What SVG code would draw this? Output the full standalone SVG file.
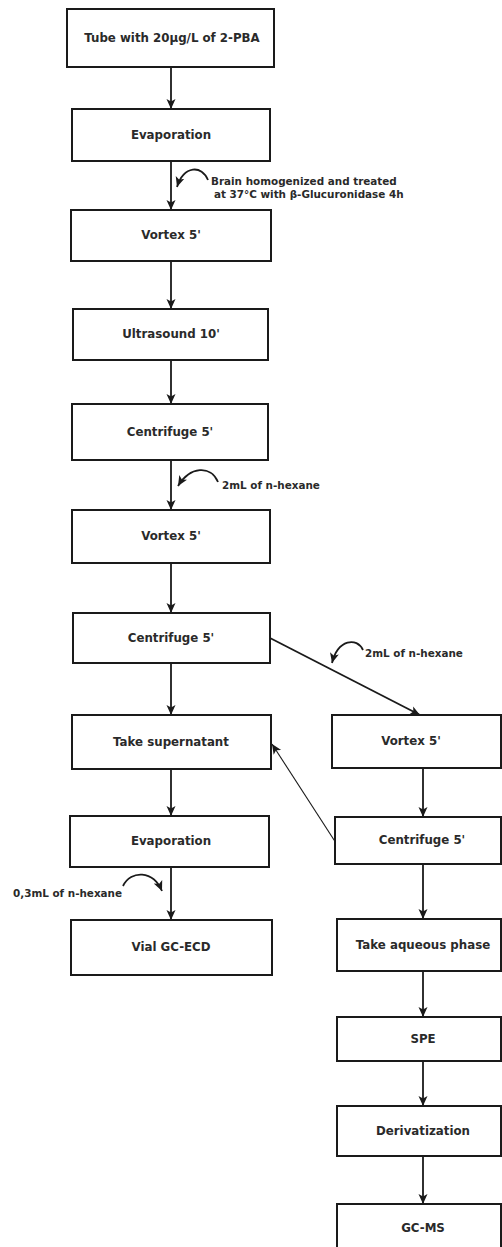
<svg xmlns="http://www.w3.org/2000/svg" width="502" height="1247" viewBox="0 0 502 1247">
  <defs>
    <marker id="arr" markerUnits="userSpaceOnUse" markerWidth="12" markerHeight="10" refX="10" refY="5" orient="auto">
      <path d="M0,0.5 L10,5 L0,9.5 L2.5,5 Z" fill="#1a1a1a"/>
    </marker>
    <style>
      .box { fill: #ffffff; stroke: #1a1a1a; stroke-width: 2; }
      .lbl { font-family: "DejaVu Sans", Verdana, sans-serif; font-weight: bold; font-size: 11.8px; fill: #2a2a2a; text-anchor: middle; dominant-baseline: central; }
      .note { font-family: "DejaVu Sans", Verdana, sans-serif; font-weight: bold; font-size: 10.4px; fill: #2a2a2a; }
      .flow { fill: none; stroke: #1a1a1a; stroke-width: 1.8; marker-end: url(#arr); }
      .thin { fill: none; stroke: #1a1a1a; stroke-width: 1.1; marker-end: url(#arr); }
    </style>
  </defs>
  <rect width="502" height="1247" fill="#ffffff"/>

  <!-- connectors -->
  <g id="connectors">
    <!-- left column -->
    <line class="flow" x1="171" y1="67" x2="171" y2="109"/>
    <line class="flow" x1="171" y1="161" x2="171" y2="210"/>
    <line class="flow" x1="171" y1="261" x2="171" y2="309"/>
    <line class="flow" x1="171" y1="360" x2="171" y2="404"/>
    <line class="flow" x1="171" y1="460" x2="171" y2="510"/>
    <line class="flow" x1="171" y1="563" x2="171" y2="613"/>
    <line class="flow" x1="171" y1="663" x2="171" y2="715"/>
    <line class="flow" x1="171" y1="769" x2="171" y2="816"/>
    <line class="flow" x1="171" y1="867" x2="171" y2="920"/>
    <!-- right column -->
    <line class="flow" x1="423" y1="768" x2="423" y2="817"/>
    <line class="flow" x1="423" y1="864" x2="423" y2="919"/>
    <line class="flow" x1="423" y1="971" x2="423" y2="1017"/>
    <line class="flow" x1="423" y1="1061" x2="423" y2="1106"/>
    <line class="flow" x1="423" y1="1156" x2="423" y2="1204"/>
    <!-- branch and return -->
    <line class="flow" x1="270" y1="638" x2="420" y2="715"/>
    <line class="thin" x1="336" y1="843" x2="272" y2="744"/>
    <!-- reagent additions -->
    <path class="flow" d="M208,180 C202,165 184,165 177,187"/>
    <path class="flow" d="M218,482 C211,465 190,466 178,486"/>
    <path class="flow" d="M363,650 C357,637 338,639 332,663"/>
    <path class="flow" d="M123,886 C131,870 153,870 162,891"/>
  </g>

  <!-- reagent notes -->
  <g id="notes">
    <text class="note" x="211" y="185">Brain homogenized and treated</text>
    <text class="note" x="214" y="198">at 37°C with β-Glucuronidase 4h</text>
    <text class="note" x="222" y="489">2mL of n-hexane</text>
    <text class="note" x="365" y="657">2mL of n-hexane</text>
    <text class="note" x="13" y="897">0,3mL of n-hexane</text>
  </g>

  <!-- left column steps -->
  <g id="n1"><rect class="box" x="67" y="9" width="207" height="58"/><text class="lbl" x="172" y="38">Tube with 20µg/L of 2-PBA</text></g>
  <g id="n2"><rect class="box" x="72" y="109" width="198" height="52"/><text class="lbl" x="171" y="135">Evaporation</text></g>
  <g id="n3"><rect class="box" x="71" y="210" width="200" height="51"/><text class="lbl" x="171" y="235">Vortex 5'</text></g>
  <g id="n4"><rect class="box" x="73" y="309" width="195" height="51"/><text class="lbl" x="171" y="334">Ultrasound 10'</text></g>
  <g id="n5"><rect class="box" x="72" y="404" width="196" height="56"/><text class="lbl" x="170" y="432">Centrifuge 5'</text></g>
  <g id="n6"><rect class="box" x="72" y="510" width="198" height="53"/><text class="lbl" x="171" y="536">Vortex 5'</text></g>
  <g id="n7"><rect class="box" x="73" y="613" width="197" height="50"/><text class="lbl" x="171" y="638">Centrifuge 5'</text></g>
  <g id="n8"><rect class="box" x="72" y="715" width="199" height="54"/><text class="lbl" x="171" y="742">Take supernatant</text></g>
  <g id="n9"><rect class="box" x="70" y="816" width="199" height="51"/><text class="lbl" x="171" y="841">Evaporation</text></g>
  <g id="n10"><rect class="box" x="71" y="920" width="201" height="55"/><text class="lbl" x="171" y="947">Vial GC-ECD</text></g>

  <!-- right column steps -->
  <g id="n11"><rect class="box" x="332" y="715" width="169" height="53"/><text class="lbl" x="411" y="741">Vortex 5'</text></g>
  <g id="n12"><rect class="box" x="335" y="817" width="166" height="47"/><text class="lbl" x="422" y="840">Centrifuge 5'</text></g>
  <g id="n13"><rect class="box" x="337" y="919" width="164" height="52"/><text class="lbl" x="423" y="945">Take aqueous phase</text></g>
  <g id="n14"><rect class="box" x="337" y="1017" width="164" height="44"/><text class="lbl" x="423" y="1039">SPE</text></g>
  <g id="n15"><rect class="box" x="337" y="1106" width="164" height="50"/><text class="lbl" x="423" y="1131">Derivatization</text></g>
  <g id="n16"><rect class="box" x="337" y="1204" width="164" height="50"/><text class="lbl" x="423" y="1228">GC-MS</text></g>
</svg>
